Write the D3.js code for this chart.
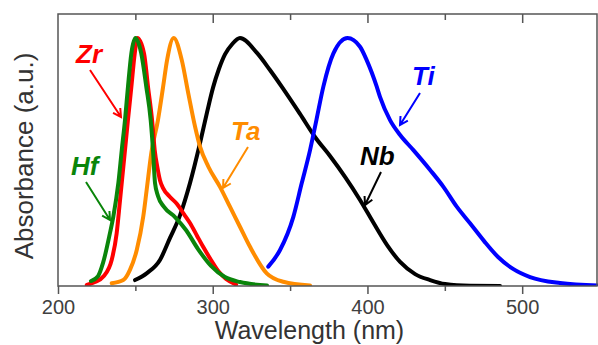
<!DOCTYPE html>
<html>
<head>
<meta charset="utf-8">
<script src="https://cdn.jsdelivr.net/npm/d3@7/dist/d3.min.js"></script>
<style>
  body { margin: 0; background: #fff; }
  svg { display: block; font-family: Arial, "Liberation Sans", sans-serif; }
</style>
</head>
<body>
<script>
// spectra (nm, normalized absorbance)
const hfNm  = [221.3, 225.9, 229.1, 233.6, 235.7, 239.0, 241.2, 243.3, 245.2, 247.4, 250.0, 253.8, 257.1, 259.9, 261.4, 262.7, 264.6, 268.5, 275.6, 282.7, 290.5, 298.9, 307.9, 317.6, 335.1]
const hfAbs = [0.020, 0.040, 0.093, 0.214, 0.278, 0.415, 0.548, 0.669, 0.802, 0.938, 1.0, 0.938, 0.802, 0.669, 0.548, 0.415, 0.363, 0.319, 0.278, 0.226, 0.149, 0.081, 0.036, 0.016, 0.002]

const zrNm  = [218.6, 223.9, 229.3, 234.7, 237.9, 240.1, 243.3, 245.2, 247.4, 249.6, 251.3, 255.6, 258.2, 260.8, 262.5, 264.2, 265.9, 267.9, 272.4, 276.9, 281.4, 285.3, 289.9, 293.9, 298.9, 304.1, 308.6, 315.1]
const zrAbs = [0.004, 0.016, 0.038, 0.105, 0.212, 0.347, 0.548, 0.669, 0.802, 0.938, 1.0, 0.938, 0.802, 0.669, 0.548, 0.480, 0.427, 0.395, 0.359, 0.331, 0.290, 0.254, 0.202, 0.157, 0.105, 0.056, 0.028, 0.006]

const taNm  = [234.7, 242.2, 246.5, 250.9, 255.1, 257.3, 260.4, 264.6, 267.9, 270.5, 274.8, 280.0, 284.2, 288.6, 291.8, 297.2, 304.7, 311.2, 317.6, 324.1, 334.9, 345.6, 362.9]
const taAbs = [0.011, 0.024, 0.065, 0.145, 0.280, 0.387, 0.540, 0.669, 0.802, 0.911, 1.0, 0.911, 0.777, 0.642, 0.562, 0.481, 0.400, 0.319, 0.239, 0.158, 0.051, 0.017, 0.002]

const nbNm  = [249.8, 257.5, 265.9, 272.4, 278.9, 285.3, 291.8, 296.3, 300.2, 304.0, 308.0, 312.5, 317.6, 328.6, 337.0, 344.8, 356.4, 366.1, 375.8, 385.5, 395.2, 403.6, 412.7, 421.1, 430.8, 440.5, 450.2, 466.3, 485.7]
const nbAbs = [0.024, 0.052, 0.105, 0.194, 0.286, 0.415, 0.577, 0.700, 0.800, 0.875, 0.935, 0.975, 1.0, 0.940, 0.871, 0.802, 0.694, 0.601, 0.524, 0.440, 0.347, 0.258, 0.165, 0.097, 0.048, 0.024, 0.008, 0.001, 0.0]

const tiNm  = [335.9, 343.5, 352.1, 357.5, 362.9, 367.0, 371.5, 378.0, 387.1, 395.2, 399.5, 406.0, 408.1, 414.6, 421.1, 429.7, 440.5, 449.1, 457.7, 466.3, 475.4, 484.4, 494.1, 505.1, 524.5, 549.1]
const tiAbs = [0.078, 0.145, 0.279, 0.414, 0.548, 0.669, 0.804, 0.938, 1.0, 0.965, 0.911, 0.804, 0.763, 0.669, 0.609, 0.548, 0.468, 0.400, 0.320, 0.253, 0.181, 0.117, 0.069, 0.036, 0.012, 0.002]

const majorTicks = [200, 300, 400, 500]
const minorTicks = [250, 350, 450]

const series = [
  { name: 'Nb', nm: nbNm, abs: nbAbs, color: '#000000', label: [360, 165], arrow: [381, 172, 365, 205] },
  { name: 'Ti', nm: tiNm, abs: tiAbs, color: '#0000ff', label: [412, 85],  arrow: [420, 93, 400, 125] },
  { name: 'Ta', nm: taNm, abs: taAbs, color: '#ff8c00', label: [231, 140], arrow: [248, 147, 223, 188] },
  { name: 'Zr', nm: zrNm, abs: zrAbs, color: '#ff0000', label: [76, 63],   arrow: [90, 70, 121, 117] },
  { name: 'Hf', nm: hfNm, abs: hfAbs, color: '#0a850a', label: [71, 175],  arrow: [86, 182, 110, 220] }
]

const W = 598, H = 345
const mLeft = 58, mRight = 598, mTop = 14, mBottom = 286

const svg = d3.select('body').append('svg')
    .attr('width', W)
    .attr('height', H)

const x = d3.scaleLinear().domain([200, 549]).range([mLeft, mRight])
const y = d3.scaleLinear().domain([0, 1.097]).range([mBottom, mTop])

svg.append('clipPath').attr('id', 'plot')
  .append('rect')
    .attr('x', mLeft).attr('y', mTop)
    .attr('width', mRight - mLeft).attr('height', mBottom - mTop)

// curves
const line = d3.line()
    .x(d => x(d[0]))
    .y(d => y(d[1]))
    .curve(d3.curveMonotoneX)

const g = svg.append('g').attr('clip-path', 'url(#plot)')
series.forEach(s => {
  g.append('path')
    .datum(d3.zip(s.nm, s.abs))
    .attr('d', line)
    .attr('fill', 'none')
    .attr('stroke', s.color)
    .attr('stroke-width', 4)
    .attr('stroke-linecap', 'round')
    .attr('stroke-linejoin', 'round')
})

// frame
const axisColor = '#555'
svg.append('rect')
    .attr('x', mLeft).attr('y', mTop)
    .attr('width', mRight - mLeft - 1).attr('height', mBottom - mTop)
    .attr('fill', 'none')
    .attr('stroke', axisColor)
    .attr('stroke-width', 1.5)

// bottom axis: ticks point outward
const xAxis = d3.axisBottom(x).tickValues(majorTicks).tickSize(8).tickSizeOuter(0).tickPadding(6)
const gx = svg.append('g').attr('transform', `translate(0,${mBottom})`).call(xAxis)
gx.select('.domain').remove()
gx.selectAll('line').attr('stroke', axisColor).attr('stroke-width', 1.5)
gx.selectAll('text').attr('fill', '#404040').style('font-size', '20px')

const gxm = svg.append('g').attr('transform', `translate(0,${mBottom})`)
    .call(d3.axisBottom(x).tickValues(minorTicks).tickSize(5).tickFormat(''))
gxm.select('.domain').remove()
gxm.selectAll('line').attr('stroke', axisColor).attr('stroke-width', 1.5)

// top axis: ticks point inward
const gt = svg.append('g').attr('transform', `translate(0,${mTop})`)
    .call(d3.axisBottom(x).tickValues(majorTicks.slice(1)).tickSize(9).tickFormat(''))
gt.select('.domain').remove()
gt.selectAll('line').attr('stroke', axisColor).attr('stroke-width', 1.5)
const gtm = svg.append('g').attr('transform', `translate(0,${mTop})`)
    .call(d3.axisBottom(x).tickValues(minorTicks).tickSize(6).tickFormat(''))
gtm.select('.domain').remove()
gtm.selectAll('line').attr('stroke', axisColor).attr('stroke-width', 1.5)

// axis titles
svg.append('text')
    .attr('x', (212 + 407) / 2)
    .attr('y', 339)
    .attr('text-anchor', 'middle')
    .attr('fill', '#333')
    .style('font-size', '25px')
    .text('Wavelength (nm)')

svg.append('text')
    .attr('transform', 'translate(33,156) rotate(-90)')
    .attr('text-anchor', 'middle')
    .attr('fill', '#333')
    .style('font-size', '26px')
    .text('Absorbance (a.u.)')

// labels with arrows
series.forEach(s => {
  svg.append('text')
    .attr('x', s.label[0])
    .attr('y', s.label[1])
    .attr('fill', s.color)
    .style('font-size', '26px')
    .style('font-weight', 'bold')
    .style('font-style', 'italic')
    .text(s.name)

  const [x1, y1, x2, y2] = s.arrow
  const ang = Math.atan2(y2 - y1, x2 - x1)
  const hl = 9, ha = 0.5
  svg.append('path')
    .attr('d', `M${x1},${y1}L${x2},${y2}` +
      `M${x2 - hl * Math.cos(ang - ha)},${y2 - hl * Math.sin(ang - ha)}L${x2},${y2}` +
      `L${x2 - hl * Math.cos(ang + ha)},${y2 - hl * Math.sin(ang + ha)}`)
    .attr('fill', 'none')
    .attr('stroke', s.color)
    .attr('stroke-width', 2)
})
</script>
</body>
</html>
